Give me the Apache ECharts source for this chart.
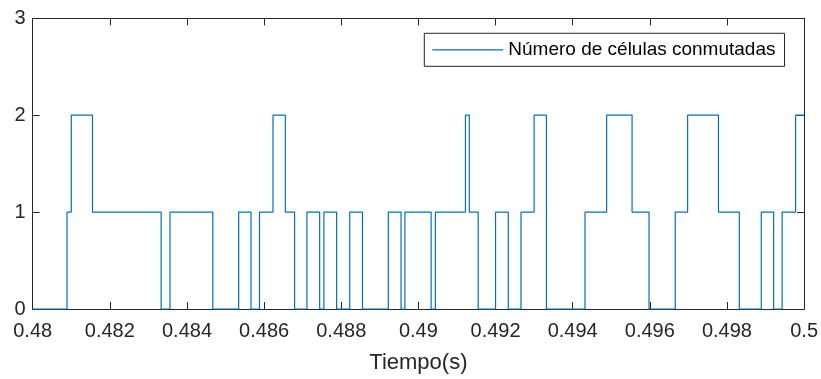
<!DOCTYPE html>
<html>
<head>
<meta charset="utf-8">
<script src="https://cdn.jsdelivr.net/npm/echarts@6/dist/echarts.min.js"></script>
<style>
html,body{margin:0;padding:0;background:#fff;}
#chart{width:821px;height:379px;}
</style>
</head>
<body>
<div id="chart"></div>
<script>
// Switching instants (s) and the level held from each instant onward
const times = [0.48, 0.48089, 0.48100, 0.48155, 0.48333, 0.48356, 0.48467, 0.48534, 0.48566, 0.48588,
  0.48623, 0.48655, 0.48679, 0.48711, 0.48744, 0.48755, 0.48788, 0.48822, 0.48855, 0.48922,
  0.48955, 0.48965, 0.49033, 0.49044, 0.49122, 0.49132, 0.49155, 0.49200, 0.49233, 0.49266,
  0.49300, 0.49332, 0.49432, 0.49488, 0.49554, 0.49598, 0.49666, 0.49698, 0.49778, 0.49832,
  0.49889, 0.49921, 0.49943, 0.49978, 0.5];
const levels = [0, 1, 2, 1, 0, 1, 0, 1, 0, 1,
  2, 1, 0, 1, 0, 1, 0, 1, 0, 1,
  0, 1, 0, 1, 2, 1, 0, 1, 0, 1,
  2, 0, 1, 2, 1, 0, 1, 2, 1, 0,
  1, 0, 1, 2, 2];
const seriesName = 'Número de células conmutadas';
const xLabel = 'Tiempo(s)';
const yTicks = [0, 1, 2, 3];

const data = times.map((t, i) => [t, levels[i]]);
const axisColor = '#262626';
const font = '"Liberation Sans", Arial, Helvetica, sans-serif';

const chart = echarts.init(document.getElementById('chart'), null, {renderer: 'canvas'});
const xFmt = v => parseFloat(v.toFixed(3)).toString();
chart.setOption({
  animation: false,
  backgroundColor: '#fff',
  grid: {left: 32.7, right: 14.3, top: 18.3, bottom: 66.3, containLabel: false},
  legend: {
    data: [seriesName],
    left: 424.3, top: 33.3,
    padding: [7, 9, 7, 8],
    icon: 'rect',
    itemWidth: 71, itemHeight: 1.2,
    backgroundColor: '#fff',
    borderColor: axisColor, borderWidth: 1,
    textStyle: {fontFamily: font, fontSize: 19, color: '#000'}
  },
  xAxis: [{
    type: 'value', min: 0.48, max: 0.5, interval: 0.002,
    position: 'bottom',
    name: xLabel, nameLocation: 'middle', nameGap: 43,
    nameTextStyle: {fontFamily: font, fontSize: 22, color: axisColor},
    axisLine: {show: true, lineStyle: {color: axisColor, width: 1}},
    axisTick: {show: true, inside: true, length: 7, lineStyle: {color: axisColor}},
    axisLabel: {formatter: xFmt, fontFamily: font, fontSize: 20, color: axisColor, margin: 12},
    splitLine: {show: false}
  }, {
    type: 'value', min: 0.48, max: 0.5, interval: 0.002,
    position: 'top',
    axisLine: {show: true, onZero: false, lineStyle: {color: axisColor, width: 1}},
    axisTick: {show: true, inside: true, length: 7, lineStyle: {color: axisColor}},
    axisLabel: {show: false},
    splitLine: {show: false}
  }],
  yAxis: [{
    type: 'value', min: yTicks[0], max: yTicks[yTicks.length - 1], interval: 1,
    position: 'left',
    axisLine: {show: true, lineStyle: {color: axisColor, width: 1}},
    axisTick: {show: true, inside: true, length: 7, lineStyle: {color: axisColor}},
    axisLabel: {fontFamily: font, fontSize: 20, color: axisColor, margin: 7},
    splitLine: {show: false}
  }, {
    type: 'value', min: yTicks[0], max: yTicks[yTicks.length - 1], interval: 1,
    position: 'right',
    axisLine: {show: true, onZero: false, lineStyle: {color: axisColor, width: 1}},
    axisTick: {show: true, inside: true, length: 7, lineStyle: {color: axisColor}},
    axisLabel: {show: false},
    splitLine: {show: false}
  }],
  series: [{
    name: seriesName,
    type: 'line',
    step: 'end',
    xAxisIndex: 0, yAxisIndex: 0,
    data: data,
    symbol: 'none',
    clip: false,
    lineStyle: {color: '#0072BD', width: 1.2},
    itemStyle: {color: '#0072BD'}
  }]
});
</script>
</body>
</html>
